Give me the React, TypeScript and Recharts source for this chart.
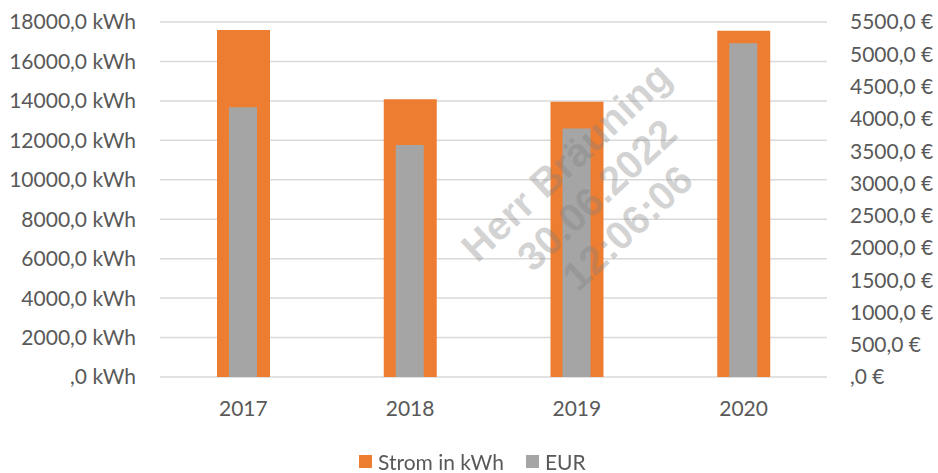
import React from 'react';
import { BarChart, Bar, XAxis, YAxis, CartesianGrid } from 'recharts';

const years = ['2017', '2018', '2019', '2020'];
const stromKwh = [17600, 14080, 13960, 17560];
const eur = [4180, 3595, 3850, 5170];
const kwhTicks = [0, 2000, 4000, 6000, 8000, 10000, 12000, 14000, 16000, 18000];
const eurTicks = [0, 500, 1000, 1500, 2000, 2500, 3000, 3500, 4000, 4500, 5000, 5500];
const watermarkLines = ['Herr Bräuning', '30.06.2022', '12:06:06'];

const ORANGE = '#ED7D31';
const GRAY = '#A5A5A5';
const TEXT = '#595959';
const FONT = 'Lato, "Open Sans", sans-serif';

const data = years.map((year, i) => ({ year, strom: stromKwh[i], eur: eur[i] }));

const fmtKwh = (v: number) => (v === 0 ? ',0 kWh' : `${v},0 kWh`);
const fmtEur = (v: number) => (v === 0 ? ',0 €' : `${v},0 €`);

const legendItems = [
  { label: 'Strom in kWh', color: ORANGE },
  { label: 'EUR', color: GRAY }
];

export default function App() {
  const tickStyle = { fill: TEXT, fontSize: 21, fontFamily: FONT };

  return (
    <div style={{ position: 'fixed', left: 0, top: 0, width: 938, height: 473, background: '#fff' }}>
      <BarChart
        width={938}
        height={473}
        data={data}
        margin={{ top: 22, right: 0, bottom: 56, left: 0 }}
      >
        <CartesianGrid
          vertical={false}
          yAxisId="kwh"
          xAxisId="kwh"
          stroke="#D9D9D9"
          strokeWidth={1.5}
        />
        <XAxis xAxisId="eur" dataKey="year" hide height={0} />
        <XAxis
          xAxisId="kwh"
          dataKey="year"
          height={40}
          tickLine={false}
          axisLine={false}
          tickSize={0}
          tickMargin={24}
          tick={tickStyle}
        />
        <YAxis
          yAxisId="kwh"
          orientation="left"
          width={160}
          domain={[0, 18000]}
          ticks={kwhTicks}
          tickFormatter={fmtKwh}
          tickLine={false}
          axisLine={false}
          tickSize={0}
          tickMargin={24}
          tick={tickStyle}
          interval={0}
        />
        <YAxis
          yAxisId="eur"
          orientation="right"
          width={111}
          domain={[0, 5500]}
          ticks={eurTicks}
          tickFormatter={fmtEur}
          tickLine={false}
          axisLine={false}
          tickSize={0}
          tickMargin={23}
          tick={tickStyle}
          interval={0}
        />
        <Bar
          dataKey="strom"
          name="Strom in kWh"
          xAxisId="kwh"
          yAxisId="kwh"
          fill={ORANGE}
          barSize={53}
          isAnimationActive={false}
        />
        <Bar
          dataKey="eur"
          name="EUR"
          xAxisId="eur"
          yAxisId="eur"
          fill={GRAY}
          barSize={28}
          isAnimationActive={false}
        />
      </BarChart>

      <div
        style={{
          position: 'absolute',
          left: 359,
          top: 449,
          display: 'flex',
          alignItems: 'center',
          fontFamily: FONT,
          fontSize: 21,
          color: TEXT,
          whiteSpace: 'nowrap'
        }}
      >
        {legendItems.map((item, i) => (
          <div key={i} style={{ display: 'flex', alignItems: 'center', marginRight: 22 }}>
            <div style={{ width: 13, height: 13, background: item.color, marginRight: 6 }} />
            <span>{item.label}</span>
          </div>
        ))}
      </div>

      <div
        style={{
          position: 'absolute',
          left: 597,
          top: 195,
          transform: 'translate(-50%, -50%) rotate(-43deg)',
          fontFamily: '"Liberation Sans", Arial, sans-serif',
          fontWeight: 'bold',
          fontSize: 40,
          lineHeight: '45px',
          color: 'rgba(128,128,128,0.35)',
          textAlign: 'center',
          whiteSpace: 'nowrap',
          pointerEvents: 'none'
        }}
      >
        {watermarkLines.map((line, i) => (
          <div key={i}>{line}</div>
        ))}
      </div>
    </div>
  );
}
